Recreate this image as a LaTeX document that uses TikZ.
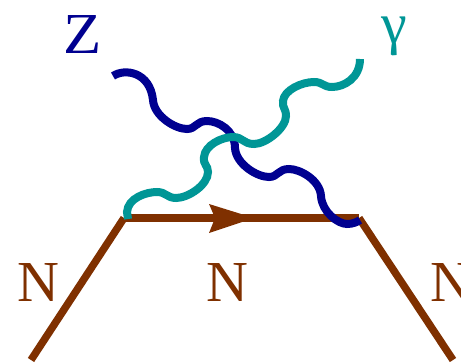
\documentclass[tikz,border=0pt]{standalone}
\usepackage{fontspec}
\setmainfont{Liberation Serif}
\definecolor{nbrown}{HTML}{7F3000}
\definecolor{zblue}{HTML}{000090}
\definecolor{gteal}{HTML}{009696}
\tikzset{
  lbl/.style={inner sep=0pt,font=\fontsize{58}{58}\selectfont},
  fermion/.style={draw=nbrown,line width=7.5pt},
  boson/.style={line width=8pt}
}
\begin{document}
\begin{tikzpicture}[x=1pt,y=-1pt]
\useasboundingbox (0,0) rectangle (461,362);
\clip (0,0) rectangle (461,362);
\coordinate (a) at (31,360);
\coordinate (b) at (124,218);
\coordinate (c) at (359,218);
\coordinate (d) at (453,360);
\draw[fermion] (a) -- (b);
\draw[fermion] (b) -- (c);
\draw[fermion] (c) -- (d);
\fill[nbrown] (254,218) -- (209,204) -- (215,218) -- (209,233) -- cycle;
\draw[boson,zblue] (113,76) .. controls (125,68) and (150,72) .. (153,100)
  .. controls (154,116) and (175,129) .. (187,129)
  .. controls (196,129) and (196,121) .. (207,121)
  .. controls (218,121) and (235,130) .. (235,148)
  .. controls (236,164) and (257,177) .. (269,177)
  .. controls (278,177) and (278,169) .. (289,169)
  .. controls (300,169) and (320,180) .. (321,196)
  .. controls (322,212) and (338,224) .. (347,224)
  .. controls (353,224) and (357,222) .. (360,220);
\draw[boson,gteal] (128,219) -- (127,212) .. controls (128,198) and (146,192) .. (157,192)
  .. controls (166,192) and (167,198) .. (176,198)
  .. controls (188,198) and (208,185) .. (208,172)
  .. controls (208,165) and (203,165) .. (204,157)
  .. controls (205,145) and (222,137) .. (233,137)
  .. controls (243,137) and (243,144) .. (254,144)
  .. controls (266,144) and (286,128) .. (286,116)
  .. controls (286,108) and (282,108) .. (283,101)
  .. controls (284,90) and (302,82) .. (314,82)
  .. controls (323,82) and (323,87) .. (332,87)
  .. controls (344,87) and (360,78) .. (360,59);
\node[lbl,text=nbrown] (n1) at (38,283) {N};
\node[lbl,text=nbrown] (n2) at (227,283) {N};
\node[lbl,text=nbrown] (n3) at (451,283) {N};
\node[lbl,text=zblue,xscale=1.08] (z) at (82.5,35) {Z};
\node[lbl,text=gteal] (g) at (394,36) {γ};
\end{tikzpicture}
\end{document}
